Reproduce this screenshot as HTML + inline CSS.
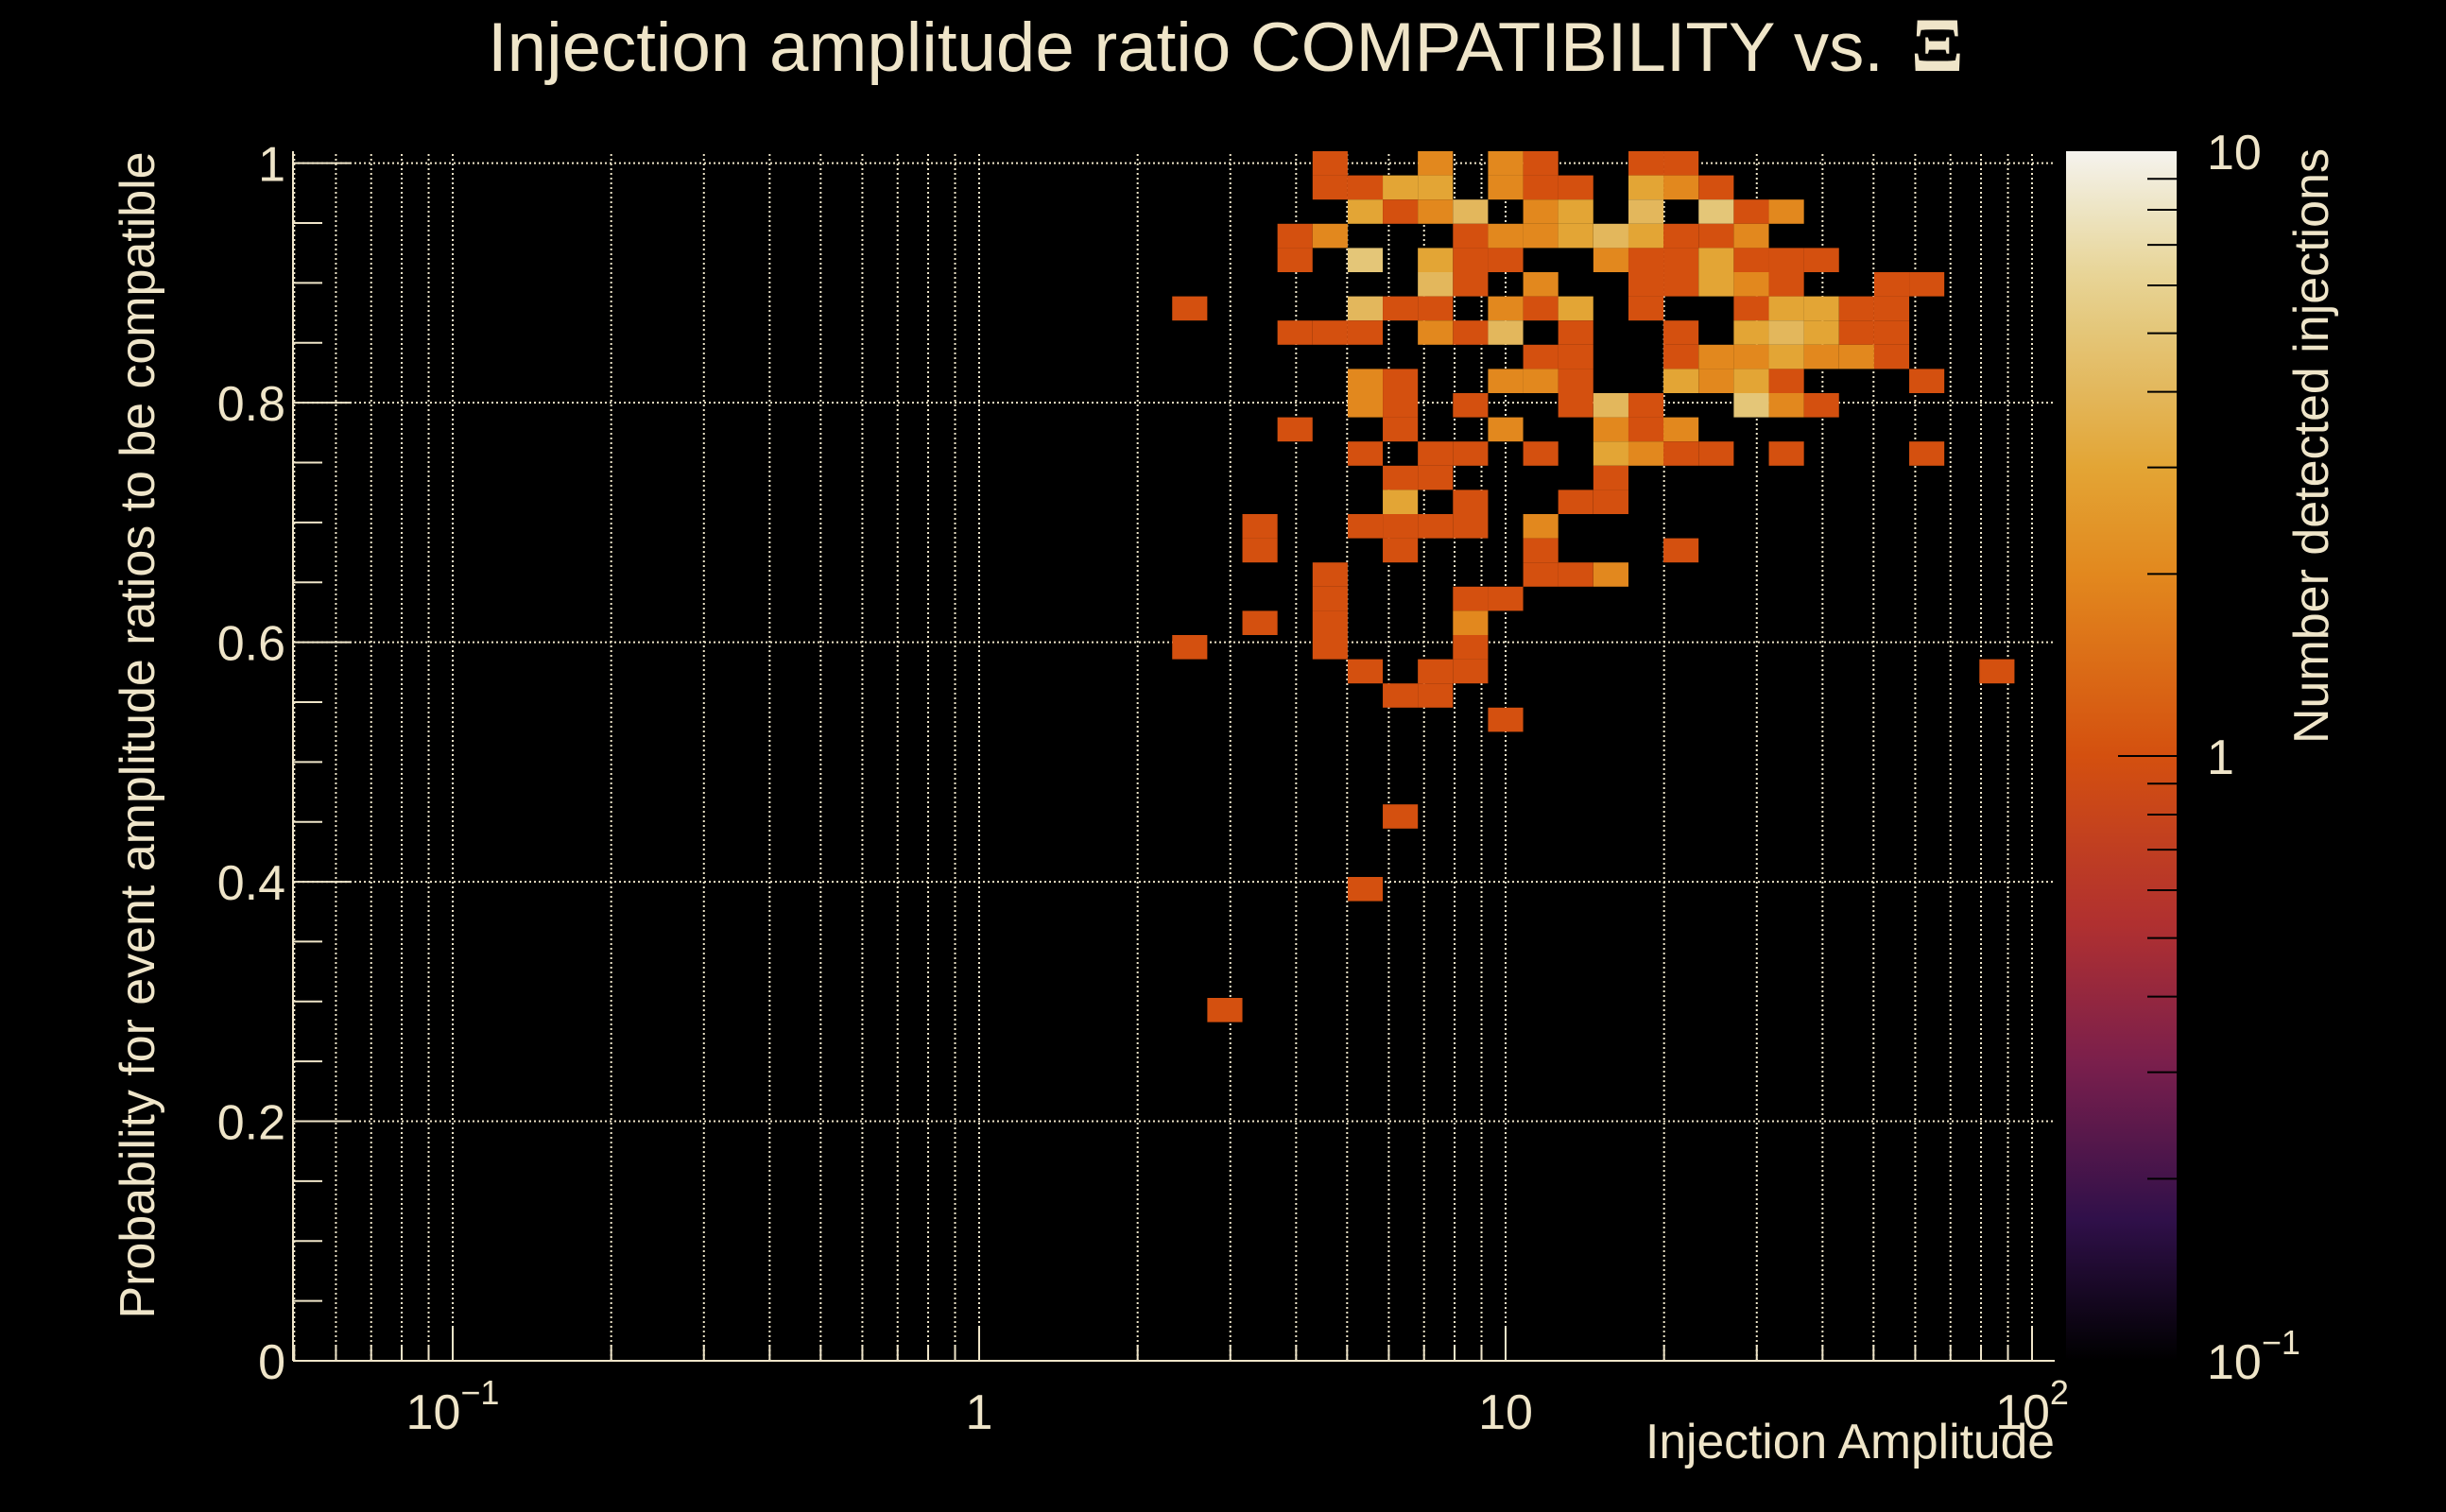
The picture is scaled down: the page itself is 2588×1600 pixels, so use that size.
<!DOCTYPE html>
<html>
<head>
<meta charset="utf-8">
<style>
  html,body{margin:0;padding:0;background:#000;}
  svg{display:block;}
  text{font-family:"Liberation Sans",sans-serif;fill:#efe5c9;}
</style>
</head>
<body>
<svg id="chart" xmlns="http://www.w3.org/2000/svg" width="2588" height="1600" viewBox="0 0 2588 1600">
  <rect x="0" y="0" width="2588" height="1600" fill="#000"/>
  <defs>
    <linearGradient id="cmap" x1="0" y1="1" x2="0" y2="0">
      <stop offset="0" stop-color="#000000"/>
      <stop offset="0.117" stop-color="#30104a"/>
      <stop offset="0.246" stop-color="#7a1f4c"/>
      <stop offset="0.361" stop-color="#b03030"/>
      <stop offset="0.5" stop-color="#d4500f"/>
      <stop offset="0.65" stop-color="#e2881e"/>
      <stop offset="0.739" stop-color="#e3a535"/>
      <stop offset="0.8" stop-color="#e3b75b"/>
      <stop offset="0.85" stop-color="#e4c678"/>
      <stop offset="0.9" stop-color="#e8d598"/>
      <stop offset="0.95" stop-color="#ede4c2"/>
      <stop offset="1" stop-color="#f5f3ee"/>
    </linearGradient>
  </defs>
  <g id="grid"></g>
  <g id="cells"></g>
  <g id="axes"></g>
  <g id="colorbar">
    <rect x="2186" y="160" width="117" height="1280" fill="url(#cmap)"/>
  </g>
  <text x="516" y="75" font-size="73" textLength="1477" lengthAdjust="spacingAndGlyphs">Injection amplitude ratio COMPATIBILITY vs.</text>
  <text x="2022" y="75" font-size="82" font-weight="bold" style="font-family:'Liberation Serif',serif">Ξ</text>
  <text x="2174" y="1543" font-size="52" text-anchor="end" textLength="433" lengthAdjust="spacingAndGlyphs">Injection Amplitude</text>
  <text transform="translate(163,778) rotate(-90)" font-size="52" text-anchor="middle" textLength="1235" lengthAdjust="spacingAndGlyphs">Probability for event amplitude ratios to be compatible</text>
  <text transform="translate(2463,157) rotate(-90)" font-size="52" text-anchor="end" textLength="630" lengthAdjust="spacingAndGlyphs">Number detected injections</text>
</svg>
<script>
// ---- data: amplitude bin centers, probability values, counts ----
const amplitudes = [
  4.642,7.356,10.0,11.66,18.48,21.54,
  4.642,5.412,6.310,7.356,10.0,11.66,13.59,18.48,21.54,25.12,
  5.412,6.310,7.356,8.577,11.66,13.59,18.48,25.12,29.29,34.15,
  3.981,4.642,8.577,10.0,11.66,13.59,15.85,18.48,21.54,25.12,29.29,
  3.981,5.412,7.356,8.577,10.0,15.85,18.48,21.54,25.12,29.29,34.15,39.81,
  7.356,8.577,11.66,18.48,21.54,25.12,29.29,34.15,54.12,63.10,
  2.512,5.412,6.310,7.356,10.0,11.66,13.59,18.48,29.29,34.15,39.81,46.42,54.12,
  3.981,4.642,5.412,7.356,8.577,10.0,13.59,21.54,29.29,34.15,39.81,46.42,54.12,
  11.66,13.59,21.54,25.12,29.29,34.15,39.81,46.42,54.12,
  5.412,6.310,10.0,11.66,13.59,21.54,25.12,29.29,34.15,63.10,
  5.412,6.310,8.577,13.59,15.85,18.48,29.29,34.15,39.81,
  3.981,6.310,10.0,15.85,18.48,21.54,
  5.412,7.356,8.577,11.66,15.85,18.48,21.54,25.12,34.15,63.10,
  6.310,7.356,15.85,
  6.310,8.577,13.59,15.85,
  3.415,5.412,6.310,7.356,8.577,11.66,
  3.415,6.310,11.66,21.54,
  4.642,11.66,13.59,15.85,
  4.642,8.577,10.0,
  3.415,4.642,8.577,
  2.512,4.642,8.577,
  5.412,7.356,8.577,85.77,
  6.310,7.356,
  10.0,
  6.310,
  5.412,
  2.929
];
const probabilities = [
  1.00,1.00,1.00,1.00,1.00,1.00,
  0.98,0.98,0.98,0.98,0.98,0.98,0.98,0.98,0.98,0.98,
  0.96,0.96,0.96,0.96,0.96,0.96,0.96,0.96,0.96,0.96,
  0.94,0.94,0.94,0.94,0.94,0.94,0.94,0.94,0.94,0.94,0.94,
  0.92,0.92,0.92,0.92,0.92,0.92,0.92,0.92,0.92,0.92,0.92,0.92,
  0.90,0.90,0.90,0.90,0.90,0.90,0.90,0.90,0.90,0.90,
  0.88,0.88,0.88,0.88,0.88,0.88,0.88,0.88,0.88,0.88,0.88,0.88,0.88,
  0.86,0.86,0.86,0.86,0.86,0.86,0.86,0.86,0.86,0.86,0.86,0.86,0.86,
  0.84,0.84,0.84,0.84,0.84,0.84,0.84,0.84,0.84,
  0.82,0.82,0.82,0.82,0.82,0.82,0.82,0.82,0.82,0.82,
  0.80,0.80,0.80,0.80,0.80,0.80,0.80,0.80,0.80,
  0.78,0.78,0.78,0.78,0.78,0.78,
  0.76,0.76,0.76,0.76,0.76,0.76,0.76,0.76,0.76,0.76,
  0.74,0.74,0.74,
  0.72,0.72,0.72,0.72,
  0.70,0.70,0.70,0.70,0.70,0.70,
  0.68,0.68,0.68,0.68,
  0.66,0.66,0.66,0.66,
  0.64,0.64,0.64,
  0.62,0.62,0.62,
  0.60,0.60,0.60,
  0.58,0.58,0.58,0.58,
  0.56,0.56,
  0.54,
  0.46,
  0.40,
  0.30
];
const counts = [
  1,2,2,1,1,1,
  1,1,3,3,2,1,1,3,2,1,
  3,1,2,4,2,3,4,5,1,2,
  1,2,1,2,2,3,4,3,1,1,2,
  1,5,3,1,1,2,1,1,3,1,1,1,
  4,1,2,1,1,3,2,1,1,1,
  1,4,1,1,2,1,3,1,1,3,3,1,1,
  1,1,1,2,1,4,1,1,3,4,3,1,1,
  1,1,1,2,2,3,2,2,1,
  2,1,2,2,1,3,2,3,1,1,
  2,1,1,1,4,1,5,2,1,
  1,1,2,2,1,2,
  1,1,1,1,3,2,1,1,1,1,
  1,1,1,
  3,1,1,1,
  1,1,1,1,1,2,
  1,1,1,1,
  1,1,1,2,
  1,1,1,
  1,1,2,
  1,1,1,
  1,1,1,1,
  1,1,
  1,
  1,
  1,
  1
];
const yTickValues = [0, 0.2, 0.4, 0.6, 0.8, 1];
const yTickLabels = ["0", "0.2", "0.4", "0.6", "0.8", "1"];
const xDecades = [-1, 0, 1, 2];
const xDecadeLabels = [["10","\u22121"], ["1",""], ["10",""], ["10","2"]];
const cbarMajor = [0.1, 1, 10];
const cbarLabels = [["10","\u22121"], ["1",""], ["10",""]];

// ---- scales ----
const PX0 = 310, PX1 = 2174, PY0 = 1440, PY1 = 160;
const LOG_ONE = 1036, DECADE = 557;
const YMAX = 1.01;
const XBIN = 1/15, YBIN = 1.01/50;
function xScale(v){ return LOG_ONE + DECADE * Math.log10(v); }
function xLog(l){ return LOG_ONE + DECADE * l; }
function yScale(p){ return PY0 - (PY0 - PY1) * p / YMAX; }
function cScale(v){ return 1440 - (Math.log10(v) + 1) / 2 * 1280; }
const cStops = [[0,[0,0,0]],[0.117,[48,16,74]],[0.246,[122,31,76]],[0.361,[176,48,48]],[0.5,[212,80,15]],[0.65,[226,136,30]],[0.739,[227,165,53]],[0.8,[227,183,91]],[0.85,[228,198,120]],[0.9,[232,213,152]],[0.95,[237,228,194]],[1,[245,243,238]]];
function colorFor(c){
  let t = (Math.log10(c) + 1) / 2;
  t = Math.max(0, Math.min(1, t));
  for (let k = 1; k < cStops.length; k++){
    if (t <= cStops[k][0]){
      const a = cStops[k-1], b = cStops[k];
      const f = (t - a[0]) / (b[0] - a[0]);
      const rgb = a[1].map((v,idx)=>Math.round(v + (b[1][idx]-v)*f));
      return "rgb(" + rgb.join(",") + ")";
    }
  }
  return "rgb(245,243,238)";
}
const NS = "http://www.w3.org/2000/svg";
function mk(tag, attrs, parent){
  const e = document.createElementNS(NS, tag);
  for (const k in attrs) e.setAttribute(k, attrs[k]);
  parent.appendChild(e);
  return e;
}
const CREAM = "#efe5c9";
const grid = document.getElementById("grid");
const cellsG = document.getElementById("cells");
const axes = document.getElementById("axes");
const cbar = document.getElementById("colorbar");

// ---- grid ----
for (let d = -2; d <= 2; d++){
  for (let m = 1; m <= 9; m++){
    const l = d + Math.log10(m);
    const x = xLog(l);
    if (x < PX0 + 1 || x > PX1 - 1) continue;
    const g = mk("line", {x1:x, y1:PY0, x2:x, y2:PY1, stroke:CREAM, "stroke-width":2, "stroke-dasharray":"2 3"}, grid);
    
    
  }
}
yTickValues.forEach(v=>{
  const y = yScale(v);
  const g = mk("line", {x1:PX0, y1:y, x2:PX1, y2:y, stroke:CREAM, "stroke-width":2, "stroke-dasharray":"2 3"}, grid);
  
  
});

// ---- cells ----
for (let k = 0; k < counts.length; k++){
  const l = Math.log10(amplitudes[k]);
  const x0 = xLog(l - XBIN/2), x1 = xLog(l + XBIN/2);
  const bin = Math.min(49, Math.floor(probabilities[k] / YBIN + 1e-9));
  const y0 = yScale((bin + 1) * YBIN), y1 = yScale(bin * YBIN);
  const r = mk("rect", {x:x0.toFixed(2), y:y0.toFixed(2), width:(x1-x0).toFixed(2), height:(y1-y0).toFixed(2), fill:colorFor(counts[k])}, cellsG);
  
  
}

// ---- axes ----
let ax = mk("line", {x1:PX0, y1:PY0, x2:PX1, y2:PY0, stroke:CREAM, "stroke-width":2}, axes);


ax = mk("line", {x1:PX0, y1:PY0, x2:PX0, y2:PY1, stroke:CREAM, "stroke-width":2}, axes);



// y ticks
for (let k = 0; k <= 20; k++){
  const v = k * 0.05;
  const y = yScale(v);
  const len = (k % 4 === 0) ? 62 : 31;
  const t = mk("line", {x1:PX0, y1:y, x2:PX0+len, y2:y, stroke:CREAM, "stroke-width":2}, axes);
  
  
}
yTickValues.forEach((v,i)=>{
  const t = mk("text", {x:302, y:(yScale(v)+19).toFixed(1), "font-size":52, "text-anchor":"end"}, axes);
  t.textContent = yTickLabels[i];
  
  
});

// x ticks
for (let d = -2; d <= 2; d++){
  for (let m = 1; m <= 9; m++){
    const x = xLog(d + Math.log10(m));
    if (x < PX0 || x > PX1) continue;
    const len = m === 1 ? 35 : 17;
    const t = mk("line", {x1:x, y1:PY0, x2:x, y2:PY0-len, stroke:CREAM, "stroke-width":2}, axes);
    
    
  }
}
xDecades.forEach((d,i)=>{
  const lab = xDecadeLabels[i];
  const t = mk("text", {x:xLog(d).toFixed(1), y:1512, "font-size":52, "text-anchor":"middle"}, axes);
  t.textContent = lab[0];
  if (lab[1]){
    const s = document.createElementNS(NS, "tspan");
    s.setAttribute("font-size", "36");
    s.setAttribute("dy", "-26");
    s.textContent = lab[1];
    t.appendChild(s);
  }
  
  
});

// ---- colorbar ticks ----
for (let d = -1; d <= 0; d++){
  for (let m = 1; m <= 9; m++){
    const v = m * Math.pow(10, d);
    if (v <= 0.1) continue;
    const y = cScale(v);
    const len = (m === 1) ? 62 : 31;
    const t = mk("line", {x1:2303-len, y1:y, x2:2303, y2:y, stroke:"#000", "stroke-width":2}, cbar);
    
    
  }
}
cbarMajor.forEach((v,i)=>{
  const lab = cbarLabels[i];
  const t = mk("text", {x:2335, y:(cScale(v)+19).toFixed(1), "font-size":52}, cbar);
  t.textContent = lab[0];
  if (lab[1]){
    const s = document.createElementNS(NS, "tspan");
    s.setAttribute("font-size", "36");
    s.setAttribute("dy", "-26");
    s.textContent = lab[1];
    t.appendChild(s);
  }
  
  
});
</script>
</body>
</html>
